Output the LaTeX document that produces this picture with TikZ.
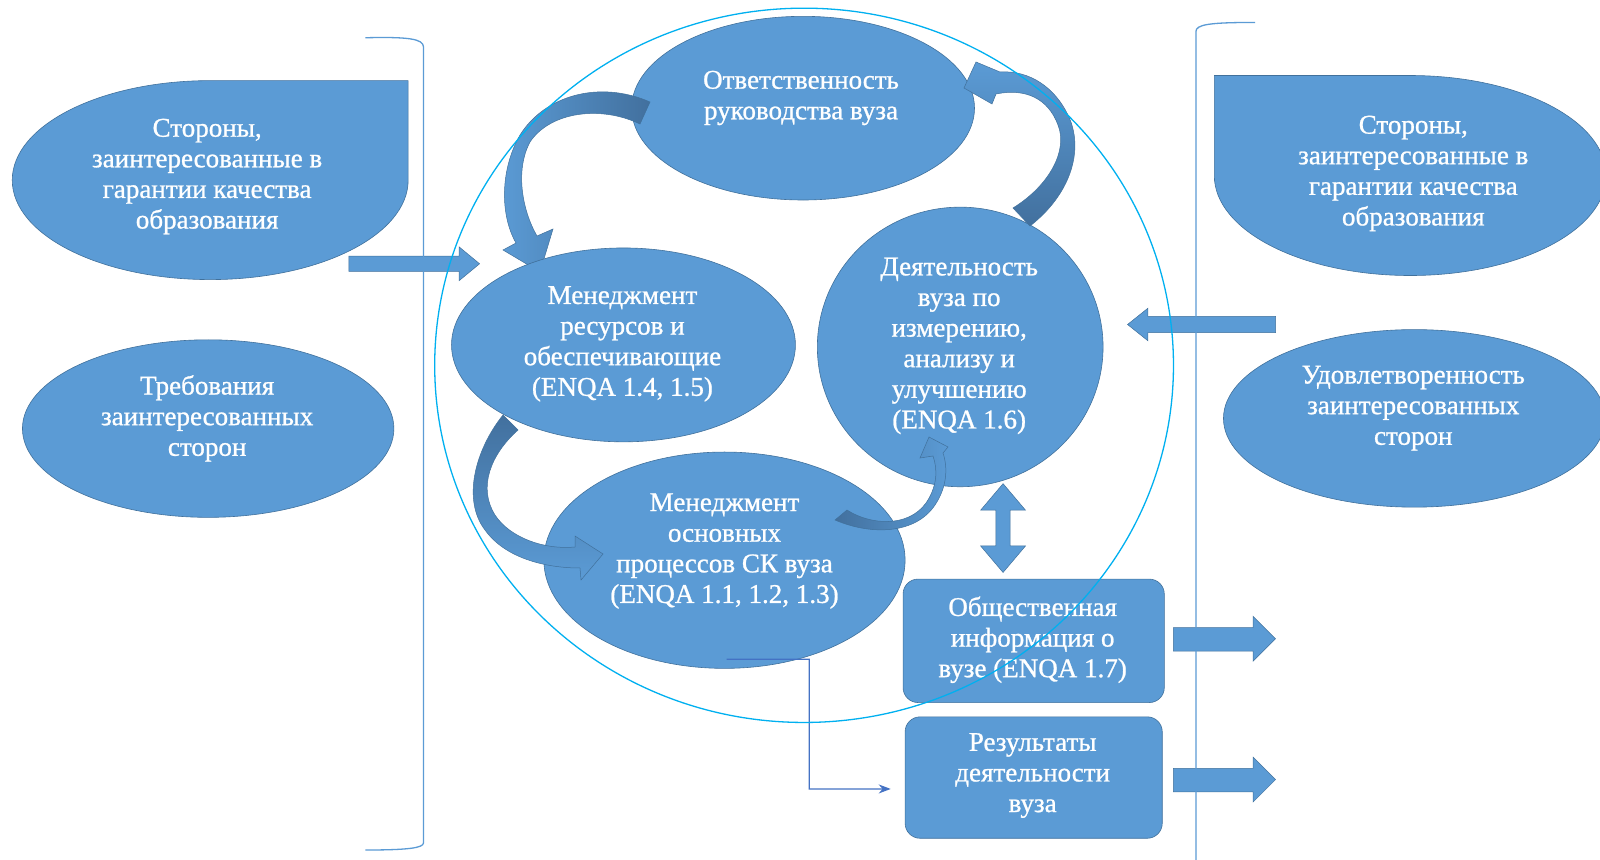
\documentclass[tikz,border=0pt]{standalone}
\usepackage{fontspec}
\setmainfont{Liberation Serif}
\newfontfamily\heavyserif{Liberation Serif}[FakeBold=0.9]
\usetikzlibrary{calc,shapes.geometric,arrows.meta}
\definecolor{bfill}{RGB}{91,155,213}
\definecolor{bline}{RGB}{65,113,156}
\definecolor{bdark}{RGB}{66,112,158}
\definecolor{cyanl}{RGB}{0,176,240}
\definecolor{conn}{RGB}{68,114,196}
\tikzset{
  ell/.style={ellipse, draw=bline, line width=0.6pt, fill=bfill, inner sep=0pt},
  rbox/.style={rectangle, rounded corners=15pt, draw=bline, line width=0.6pt, fill=bfill, inner sep=0pt},
  txt/.style={text=white, align=center, font=\heavyserif\fontsize{26.5}{30}\selectfont, inner sep=0pt},
  barrow/.style={fill=bfill, draw=bline, line width=0.5pt},
  bracketline/.style={draw=bfill, line width=1.3pt},
  ring/.style={draw=cyanl, line width=1.3pt},
  conline/.style={draw=conn, line width=1.3pt, -{Stealth[length=12pt,width=9pt]}},
  carrow/.style={draw=bline, line width=0.5pt}
}
\begin{document}
\begin{tikzpicture}[x=1pt,y=-1pt,scale=1.0204,transform shape]
\useasboundingbox (0,0) rectangle (1568,842.8);
\fill[white] (0,0) rectangle (1568,842.8);

% side shapes
\path[barrow, draw=bline, line width=0.6pt] (400,79) -- (400,176.5) arc[start angle=0, end angle=270, x radius=194, y radius=97.5] -- cycle;
\coordinate (snipL) at (206,176.5);
\path[barrow, draw=bline, line width=0.6pt] (1190,74) -- (1190,172) arc[start angle=180, end angle=-90, x radius=192, y radius=98] -- cycle;
\coordinate (snipR) at (1382,172);
\node[ell, minimum width=364pt, minimum height=174pt] (treb) at (204,420) {};
\node[ell, minimum width=374pt, minimum height=174pt] (udov) at (1386,410) {};

% central ellipses
\node[ell, minimum width=336pt, minimum height=180pt] (otv) at (787,106) {};
\node[ell, minimum width=280pt, minimum height=274pt] (deyat) at (941,340) {};
\node[ell, minimum width=354pt, minimum height=212pt] (osn) at (710,549) {};

\begin{scope}[scale=0.98]
% curved arrow 1 (otv -> res)
\path[carrow, left color=bfill, right color=bdark]
  (650,102) .. controls (600,80) and (545,95) .. (520,135)
  .. controls (500,170) and (500,215) .. (516,243)
  -- (503,250) -- (540,272) -- (553,229) -- (537,236)
  .. controls (522,210) and (515,170) .. (530,142)
  .. controls (550,112) and (600,105) .. (640,124) -- cycle;
\end{scope}

\node[ell, minimum width=337pt, minimum height=190pt] (res) at (611,338) {};

\begin{scope}[scale=0.98]
% curved arrow 2 (deyat -> otv)
\path[carrow, top color=bfill, bottom color=bdark]
  (1030,226) .. controls (1070,195) and (1085,150) .. (1068,115)
  .. controls (1055,88) and (1030,70) .. (1000,72)
  -- (976,62) -- (964,88) -- (992,104) -- (996,94)
  .. controls (1025,88) and (1048,98) .. (1058,125)
  .. controls (1068,150) and (1050,185) .. (1013,208) -- cycle;

% curved arrow 3 (res -> osn)
\path[carrow, top color=bdark, bottom color=bfill]
  (503,415) .. controls (475,450) and (462,500) .. (485,530)
  .. controls (505,558) and (545,568) .. (580,568)
  -- (581,580) -- (603,554) -- (575,536) -- (575,547)
  .. controls (545,550) and (510,538) .. (495,515)
  .. controls (478,488) and (490,455) .. (518,430) -- cycle;

% curved arrow 4 (osn -> deyat)
\path[carrow, left color=bdark, right color=bfill]
  (835,520) .. controls (870,535) and (915,535) .. (935,505)
  .. controls (947,487) and (948,468) .. (943,453)
  -- (948,447) -- (929,437) -- (920,458) -- (933,456)
  .. controls (938,470) and (937,487) .. (926,503)
  .. controls (908,528) and (870,525) .. (847,510) -- cycle;
\end{scope}

% boxes
\node[rbox, minimum width=256pt, minimum height=121pt] (obsh) at (1013,628) {};
\node[rbox, minimum width=252pt, minimum height=119pt] (rez) at (1013,762) {};

% straight block arrows
\path[barrow] (342,251) -- (450,251) -- (450,242) -- (470,258.5) -- (450,275) -- (450,266) -- (342,266) -- cycle;
\path[barrow] (1250,310) -- (1125,310) -- (1125,302) -- (1105,318) -- (1125,334) -- (1125,326) -- (1250,326) -- cycle;
\path[barrow] (1150,615) -- (1228,615) -- (1228,604) -- (1250,626) -- (1228,648) -- (1228,638) -- (1150,638) -- cycle;
\path[barrow] (1150,753) -- (1228,753) -- (1228,742) -- (1250,764) -- (1228,786) -- (1228,776) -- (1150,776) -- cycle;
\path[barrow] (983,474) -- (1005,500) -- (990,500) -- (990,535) -- (1005,535) -- (983,561) -- (961,535) -- (976,535) -- (976,500) -- (961,500) -- cycle;

% connector
\coordinate (cstart) at (712,646);
\draw[conline] (cstart) -- (793,646) |- ($(rez.west)+(-14,11)$);

% brackets
\path[bracketline] (358,37) .. controls (400,36) and (415,38) .. (415,46) -- (415,826) .. controls (415,831) and (400,833) .. (358,833);
\path[bracketline] (1230,22) .. controls (1185,22) and (1172,24) .. (1172,31) -- (1172,843);

% texts
\node[txt] (tL) at (203,173) {Стороны,\\заинтересованные в\\гарантии качества\\образования};
\node[txt] (tTreb) at (203,410) {Требования\\заинтересованных\\сторон};
\node[txt] (tOtv) at (785,96) {Ответственность\\руководства вуза};
\node[txt] (tRes) at (610,337) {Менеджмент\\ресурсов и\\обеспечивающие\\(ENQA 1.4, 1.5)};
\node[txt] (tDey) at (940,339) {Деятельность\\вуза по\\измерению,\\анализу и\\улучшению\\(ENQA 1.6)};
\node[txt] (tOsn) at (710,540) {Менеджмент\\основных\\процессов СК вуза\\(ENQA 1.1, 1.2, 1.3)};
\node[txt] (tObsh) at (1012,627) {Общественная\\информация о\\вузе (ENQA 1.7)};
\node[txt] (tRez) at (1012,760) {Результаты\\деятельности\\вуза};
\node[txt] (tR) at (1385,170) {Стороны,\\заинтересованные в\\гарантии качества\\образования};
\node[txt] (tUdov) at (1385,400) {Удовлетворенность\\заинтересованных\\сторон};

% big ring
\draw[ring] (788,358) ellipse[x radius=362, y radius=350];
\end{tikzpicture}
\end{document}
